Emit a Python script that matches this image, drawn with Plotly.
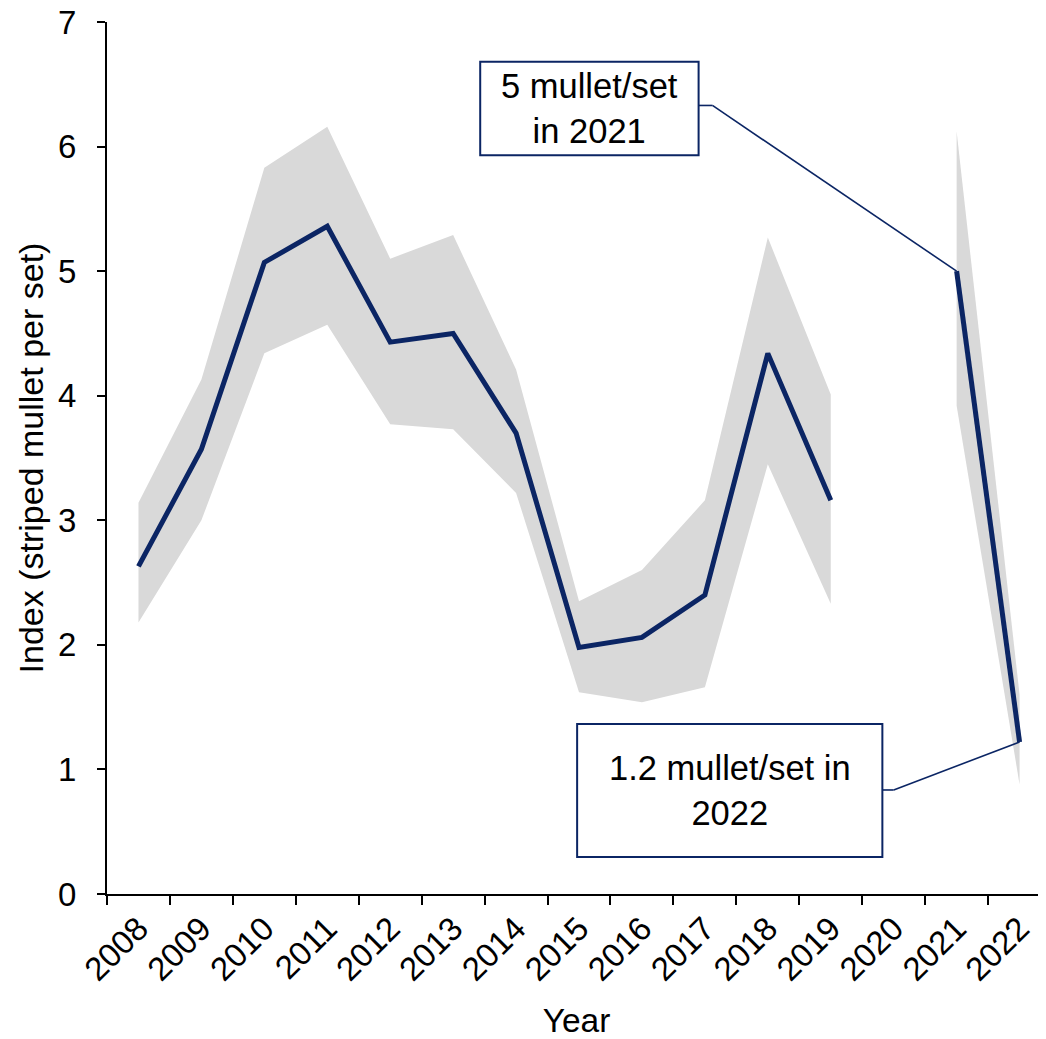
import plotly.graph_objects as go

# ---- data ----
years = [str(y) for y in range(2008, 2023)]
index_val = [2.63, 3.57, 5.07, 5.36, 4.43, 4.50, 3.70, 1.98, 2.06, 2.40, 4.34, 3.16, None, 5.00, 1.22]
upper_ci = [3.14, 4.13, 5.83, 6.16, 5.10, 5.29, 4.21, 2.35, 2.60, 3.16, 5.27, 4.01, None, 6.12, 1.60]
lower_ci = [2.18, 3.00, 4.34, 4.57, 3.77, 3.73, 3.22, 1.62, 1.54, 1.66, 3.45, 2.33, None, 3.92, 0.88]
y_ticks = [0, 1, 2, 3, 4, 5, 6, 7]
label_2021 = "5 mullet/set<br>in 2021"
label_2022 = "1.2 mullet/set in<br>2022"

NAVY = "#0B2564"
BAND = "#D9D9D9"
FONT = "Liberation Sans, Arial, sans-serif"

fig = go.Figure()

# split into contiguous segments (gap at 2020)
segments = []
cur = []
for i, v in enumerate(index_val):
    if v is None:
        if cur:
            segments.append(cur)
        cur = []
    else:
        cur.append(i)
if cur:
    segments.append(cur)

for seg in segments:
    xs = [years[i] for i in seg]
    fig.add_trace(go.Scatter(x=xs, y=[lower_ci[i] for i in seg], mode="lines",
                             line=dict(width=0, color=BAND), showlegend=False, hoverinfo="skip"))
    fig.add_trace(go.Scatter(x=xs, y=[upper_ci[i] for i in seg], mode="lines",
                             line=dict(width=0, color=BAND), fill="tonexty", fillcolor=BAND,
                             showlegend=False, hoverinfo="skip"))

fig.add_trace(go.Scatter(x=years, y=index_val, mode="lines", connectgaps=False,
                         line=dict(color=NAVY, width=5), showlegend=False))

# ---- callout boxes (layout positions in axis units) ----
i21 = years.index("2021")
i22 = years.index("2022")
boxes = [
    # x0, x1, y0, y1, elbow_x, elbow_y, target index, text
    (5.43, 8.90, 5.93, 6.68, 9.12, 6.33, i21, label_2021),
    (6.97, 11.82, 0.297, 1.365, 12.0, 0.835, i22, label_2022),
]
for x0, x1, y0, y1, ex, ey, ti, txt in boxes:
    fig.add_shape(type="rect", xref="x", yref="y", x0=x0, x1=x1, y0=y0, y1=y1,
                  line=dict(color=NAVY, width=2), fillcolor="white", layer="above")
    fig.add_shape(type="line", xref="x", yref="y", x0=x1, y0=ey, x1=ex, y1=ey,
                  line=dict(color=NAVY, width=1.6))
    fig.add_shape(type="line", xref="x", yref="y", x0=ex, y0=ey, x1=ti, y1=index_val[ti],
                  line=dict(color=NAVY, width=1.6))
    fig.add_annotation(x=(x0 + x1) / 2, y=(y0 + y1) / 2, xref="x", yref="y", text=txt,
                       showarrow=False, font=dict(family=FONT, size=34.5, color="black"),
                       align="center")

fig.update_layout(
    width=1046, height=1039,
    margin=dict(l=99, r=8, t=14, b=153),
    paper_bgcolor="white", plot_bgcolor="white",
    font=dict(family=FONT, color="black"),
    hovermode=False,
)
fig.update_xaxes(
    type="category", categoryorder="array", categoryarray=years,
    range=[-0.5, 14.42], tickson="boundaries",
    showline=True, linecolor="black", linewidth=2,
    ticks="outside", ticklen=9, tickwidth=2, tickcolor="black",
    tickangle=-45, tickfont=dict(family=FONT, size=33, color="black"),
    ticklabeloverflow="allow",
    showgrid=False, zeroline=False, automargin=False,
    title=dict(text="Year", font=dict(family=FONT, size=33.5, color="black"), standoff=22),
)
fig.update_yaxes(
    range=[0, 7], tickvals=y_ticks, ticktext=[str(v) for v in y_ticks],
    showline=True, linecolor="black", linewidth=2,
    ticks="outside", ticklen=8, tickwidth=2, tickcolor="black",
    tickfont=dict(family=FONT, size=33, color="black"), ticklabelstandoff=14,
    ticklabeloverflow="allow",
    showgrid=False, zeroline=False, automargin=False,
    title=dict(text="Index (striped mullet per set)", font=dict(family=FONT, size=34, color="black"),
               standoff=4),
)

fig.write_html("out.html")
